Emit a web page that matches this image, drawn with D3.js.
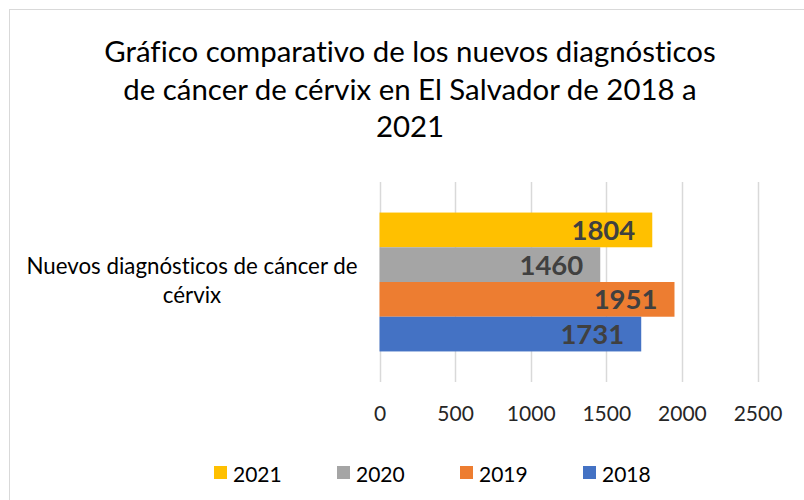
<!DOCTYPE html>
<html>
<head>
<meta charset="utf-8">
<script src="https://cdn.jsdelivr.net/npm/d3@7"></script>
<style>
  body { margin: 0; background: #fff; }
  svg { display: block; font-family: Lato, "Open Sans", sans-serif; font-variant-ligatures: none; }
</style>
</head>
<body>
<svg id="chart" width="804" height="500"></svg>
<script>
// data
const titleLines = [
  "Gráfico comparativo de los nuevos diagnósticos",
  "de cáncer de cérvix en El Salvador de 2018 a",
  "2021",
];
const categories = ["Nuevos diagnósticos de cáncer de cérvix"];
const categoryLines = ["Nuevos diagnósticos de cáncer de", "cérvix"];
const years = ["2021", "2020", "2019", "2018"];
const values = [1804, 1460, 1951, 1731];
const colors = ["#FFC000", "#A5A5A5", "#ED7D31", "#4472C4"];
const xTicks = [0, 500, 1000, 1500, 2000, 2500];

const svg = d3.select("#chart");
const width = 804, height = 500;
const margin = { top: 182, right: 46, bottom: 118, left: 380 };

// chart frame
svg.append("rect")
  .attr("x", 9.5).attr("y", 9.5)
  .attr("width", width + 20).attr("height", height + 20)
  .attr("fill", "#fff")
  .attr("stroke", "#d9d9d9")
  .attr("stroke-width", 1);

// title
svg.append("g")
  .selectAll("text")
  .data(titleLines)
  .join("text")
  .attr("x", 410)
  .attr("y", (d, i) => 62 + i * 37.5)
  .attr("text-anchor", "middle")
  .attr("font-size", 29.4)
  .attr("fill", "#000")
  .text((d) => d);

// scales
const x = d3.scaleLinear()
  .domain([0, 2500])
  .range([margin.left - 0.5, width - margin.right - 0.5]);

const y0 = d3.scaleBand()
  .domain(categories)
  .range([margin.top, height - margin.bottom]);

const y1 = d3.scaleBand()
  .domain(years)
  .range([0, y0.bandwidth()])
  .paddingInner(0)
  .paddingOuter(0.88);

// gridlines
svg.append("g")
  .selectAll("line")
  .data(xTicks)
  .join("line")
  .attr("x1", (d) => Math.round(x(d)) + 0.5)
  .attr("x2", (d) => Math.round(x(d)) + 0.5)
  .attr("y1", margin.top)
  .attr("y2", height - margin.bottom)
  .attr("stroke", "#d9d9d9")
  .attr("stroke-width", 1.5);

// x axis (labels only)
const xAxis = svg.append("g")
  .attr("transform", "translate(0," + (height - margin.bottom) + ")")
  .call(d3.axisBottom(x).tickValues(xTicks).tickFormat(d3.format("d")).tickSize(0).tickPadding(24));
xAxis.select(".domain").remove();
xAxis.selectAll("text")
  .attr("font-family", "Lato, 'Open Sans', sans-serif")
  .attr("font-size", 21)
  .attr("fill", "#262626");

// category label
svg.append("g")
  .selectAll("text")
  .data(categoryLines)
  .join("text")
  .attr("x", 192)
  .attr("y", (d, i) => y0(categories[0]) + y0.bandwidth() / 2 - 8 + i * 29)
  .attr("text-anchor", "middle")
  .attr("font-size", 22.3)
  .attr("fill", "#000")
  .text((d) => d);

// bars
const bars = svg.append("g")
  .attr("transform", "translate(0," + y0(categories[0]) + ")");

bars.selectAll("rect")
  .data(values)
  .join("rect")
  .attr("x", x(0))
  .attr("y", (d, i) => y1(years[i]))
  .attr("width", (d) => x(d) - x(0))
  .attr("height", y1.bandwidth())
  .attr("fill", (d, i) => colors[i]);

// value labels, inside end
bars.selectAll("text")
  .data(values)
  .join("text")
  .attr("x", (d) => x(d) - 17)
  .attr("y", (d, i) => y1(years[i]) + y1.bandwidth() / 2 + 10)
  .attr("text-anchor", "end")
  .attr("font-size", 27.5)
  .attr("font-weight", "bold")
  .attr("fill", "#404040")
  .text((d) => d);

// legend
const legend = svg.append("g")
  .selectAll("g")
  .data(years)
  .join("g")
  .attr("transform", (d, i) => "translate(" + (214 + i * 123) + ",466)");

legend.append("rect")
  .attr("width", 13)
  .attr("height", 13)
  .attr("fill", (d, i) => colors[i]);

legend.append("text")
  .attr("x", 19)
  .attr("y", 15.5)
  .attr("font-size", 21)
  .attr("fill", "#000")
  .text((d) => d);
</script>
</body>
</html>
